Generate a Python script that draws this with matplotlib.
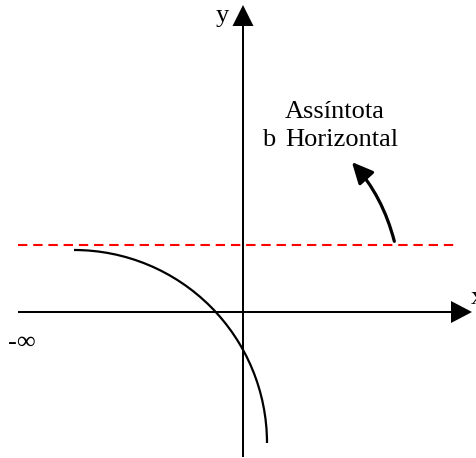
import matplotlib
matplotlib.use("Agg")
import matplotlib.pyplot as plt
from matplotlib.patches import Arc, FancyArrowPatch

# Schematic geometry (units: pixels relative to the axes origin, y up)
x_axis_span = [-225, 229]
y_axis_span = [-145, 307]
asymptote_b = 67
asymptote_span = [-225, 212]
curve_center = (-169, -131)
curve_radius = 193
note_arrow_start = (152, 68)
note_arrow_end = (107, 152)

labels = {"y": "y", "x": "x", "minf": "-∞", "b": "b",
          "note1": "Assíntota", "note2": "Horizontal"}

fig = plt.figure(figsize=(4.77, 4.58), dpi=100)
ax = fig.add_axes([0, 0, 1, 1])
ax.set_xlim(-243, 234)
ax.set_ylim(-146, 312)
ax.axis("off")

serif = ["Liberation Serif", "DejaVu Serif"]
fs = 19

# axes with arrowheads
ax.arrow(x_axis_span[0], 0, x_axis_span[1] - x_axis_span[0], 0,
         width=2, head_width=22, head_length=21, length_includes_head=True,
         color="black", lw=0)
ax.arrow(0, y_axis_span[0], 0, y_axis_span[1] - y_axis_span[0],
         width=2, head_width=21, head_length=21, length_includes_head=True,
         color="black", lw=0)

# horizontal asymptote
ax.plot(asymptote_span, [asymptote_b, asymptote_b], color="#ff0000",
        lw=1.5, dashes=(4.5, 2.8))

# curve
ax.add_patch(Arc(curve_center, 2 * curve_radius, 2 * curve_radius,
                 theta1=0, theta2=90, color="black", lw=1.6))

# pointing arrow
arr = FancyArrowPatch(note_arrow_start, note_arrow_end,
                      connectionstyle="arc3,rad=0.13",
                      arrowstyle="-|>,head_length=0.8,head_width=0.38",
                      mutation_scale=16, color="black", lw=2.3)
ax.add_patch(arr)

# texts
ax.text(-21, 296, labels["y"], fontsize=fs, family=serif, ha="center", va="center")
ax.text(228, 14, labels["x"], fontsize=fs, family=serif, ha="left", va="center")
ax.text(-221, -31, labels["minf"], fontsize=fs, family=serif, ha="center", va="center")
ax.text(26, 172, labels["b"], fontsize=fs, family=serif, ha="center", va="center")
ax.text(42, 200, labels["note1"], fontsize=fs, family=serif, ha="left", va="center")
ax.text(42, 172, labels["note2"], fontsize=fs, family=serif, ha="left", va="center")

fig.savefig("out.png", dpi=100)
